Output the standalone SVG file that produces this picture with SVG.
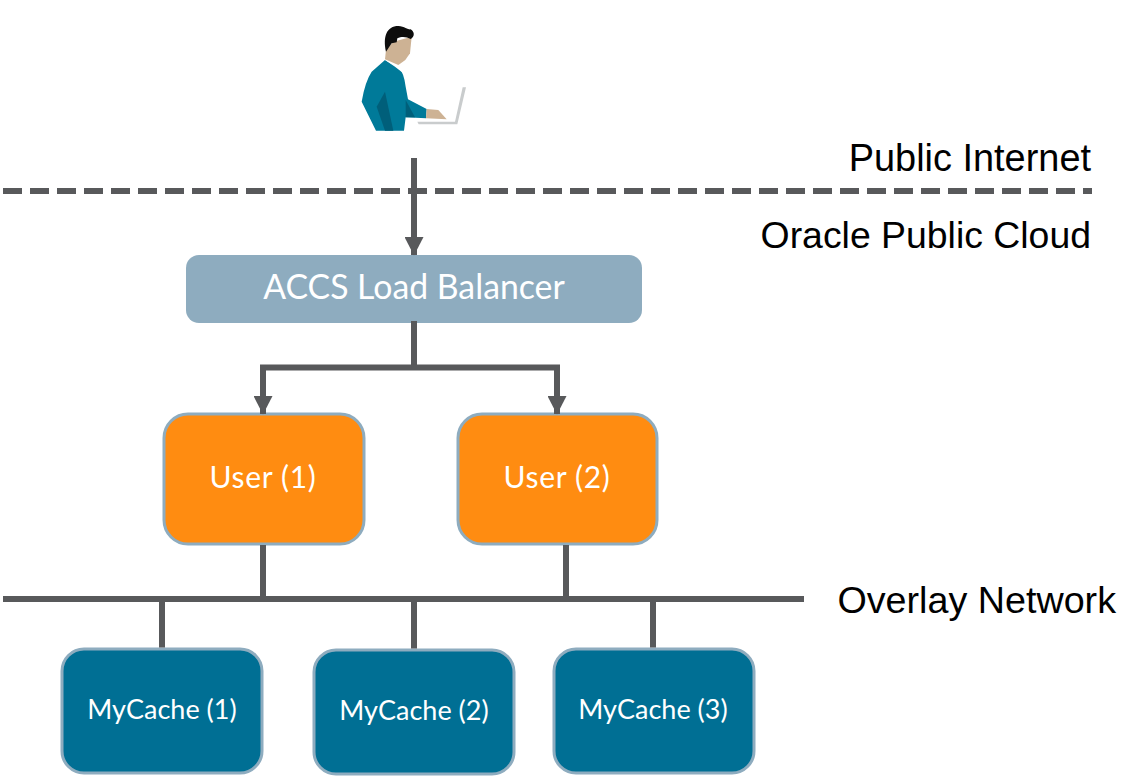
<svg xmlns="http://www.w3.org/2000/svg" width="1140" height="776" viewBox="0 0 1140 776">
<style>
.c{fill:none;stroke:#58595b;stroke-width:6}
.t{font-family:"Lato","Open Sans",sans-serif;fill:#fff;text-anchor:middle}
.l{font-family:"Liberation Sans",Arial,sans-serif;fill:#000;font-size:37.7px;text-anchor:end}
.u{fill:#ff8c11;stroke:#8eacbf;stroke-width:3}
.m{fill:#006f94;stroke:#8eacbf;stroke-width:3}
</style>
<defs><marker id="a" markerUnits="userSpaceOnUse" markerWidth="19" markerHeight="19" refX="18" refY="9.5" orient="auto"><path d="M0 0L18.5 9.5L0 19Z" fill="#58595b"/></marker></defs>
<g id="user-figure" transform="translate(340 10) scale(.33333)">
<path d="M135 150L178 175Q192 190 197 230L204 268L260 297L258 325L197 322L192 362L108 362L65 275Q75 215 95 185Z" fill="#007a99"/>
<path d="M135 245L110 290L135 362L160 362Z" fill="#005f7a"/>
<path d="M197 270L197 322L225 322Z" fill="#005f7a"/>
<path d="M135 150L150 152L185 172L190 190L165 170Z" fill="#fff"/>
<path d="M160 95L215 80L210 130L196 150L175 165L135 148L138 120Z" fill="#cdb294"/>
<path d="M138 125C128 80 140 48 175 48C195 50 205 60 212 58C224 65 225 80 212 87C200 80 185 78 172 85L170 97L155 100L145 115Z" fill="#0d0d0d"/>
<path d="M260 297L295 300L320 328L258 325Z" fill="#cdb294"/>
<path d="M232 335H345L368 232H378L352 343H236Z" fill="#c9cccd"/>
</g>
<g id="load-balancer"><rect x="186" y="255" width="456" height="68" rx="13" fill="#8eacbf"/><text class="t" x="414" y="299" font-size="33.8">ACCS Load Balancer</text></g>
<g id="user-1"><rect class="u" x="164" y="414" width="200" height="130" rx="24"/><text class="t" x="263" y="488" font-size="30" letter-spacing=".7">User (1)</text></g>
<g id="user-2"><rect class="u" x="458" y="414" width="199" height="130" rx="24"/><text class="t" x="557" y="488" font-size="30" letter-spacing=".7">User (2)</text></g>
<g id="mycache-1"><rect class="m" x="62" y="649" width="200" height="124" rx="22"/><text class="t" x="162" y="719" font-size="27">MyCache (1)</text></g>
<g id="mycache-2"><rect class="m" x="314" y="650" width="200" height="124" rx="22"/><text class="t" x="414" y="720" font-size="27">MyCache (2)</text></g>
<g id="mycache-3"><rect class="m" x="554" y="649" width="200" height="124" rx="22"/><text class="t" x="653" y="719" font-size="27">MyCache (3)</text></g>
<g id="connectors">
<path class="c" d="M414 158V255" marker-end="url(#a)"/>
<path d="M3 191H1092" fill="none" stroke="#58595b" stroke-width="6" stroke-dasharray="19 8"/>
<path class="c" d="M414 321V370"/>
<path class="c" d="M263 397V367.5H557V397"/>
<path class="c" d="M263 390V414" marker-end="url(#a)"/>
<path class="c" d="M557 390V414" marker-end="url(#a)"/>
<path class="c" d="M3 599H804"/>
<path class="c" d="M263 545V599M566 545V599M162 599V647.500M414 599V648.500M653 599V647.500"/>
</g>
<g id="labels">
<text class="l" x="1091" y="171" style="font-size:37.9px">Public Internet</text>
<text class="l" x="1091" y="248" style="font-size:37.4px">Oracle Public Cloud</text>
<text class="l" x="1116" y="613">Overlay Network</text>
</g>
</svg>
